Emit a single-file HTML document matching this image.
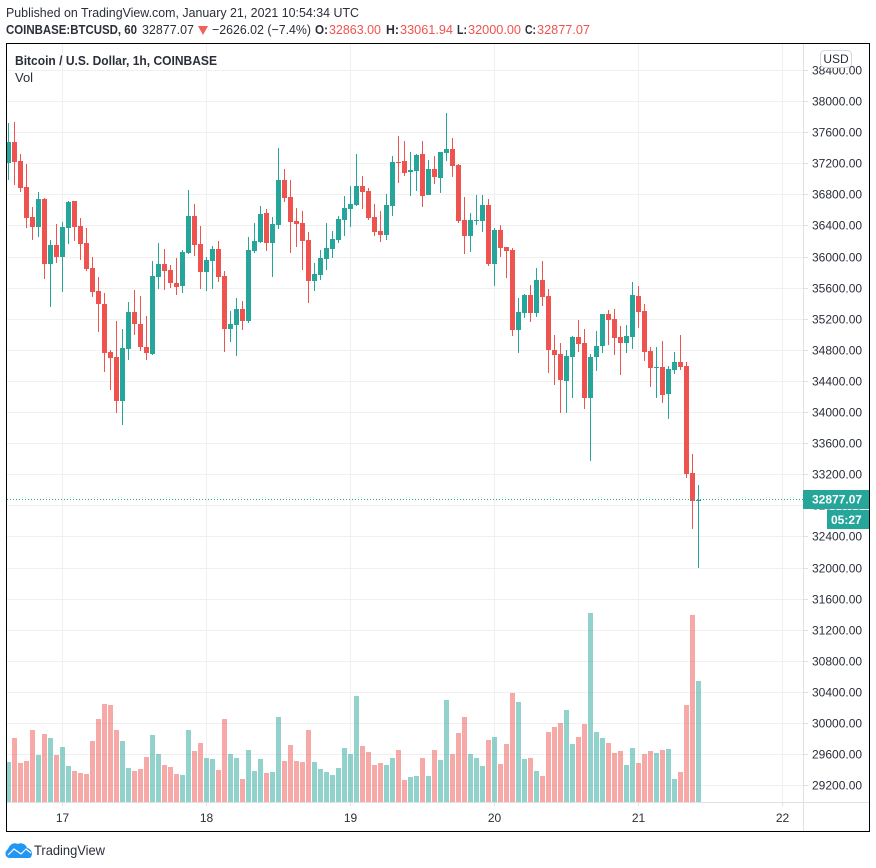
<!DOCTYPE html>
<html lang="en">
<head>
<meta charset="utf-8">
<title>Bitcoin / U.S. Dollar, 1h, COINBASE</title>
<style>
html,body{margin:0;padding:0;background:#fff;width:876px;height:868px;overflow:hidden}
svg{display:block;font-family:"Liberation Sans",Arial,sans-serif}
</style>
</head>
<body>
<svg id="chart" xmlns="http://www.w3.org/2000/svg" width="876" height="868" viewBox="0 0 876 868">
  <rect x="0" y="0" width="876" height="868" fill="#ffffff"/>
  <text x="6" y="17" font-size="13" fill="#2a2e39" textLength="353" lengthAdjust="spacingAndGlyphs">Published on TradingView.com, January 21, 2021 10:54:34 UTC</text>
  <g font-size="13">
    <text x="6" y="34" font-weight="bold" fill="#2a2e39" textLength="131" lengthAdjust="spacingAndGlyphs">COINBASE:BTCUSD, 60</text>
    <text x="142" y="34" fill="#2a2e39" textLength="52" lengthAdjust="spacingAndGlyphs">32877.07</text>
    <polygon points="198,26 208,26 203,35" fill="#f0605d"/>
    <text x="212" y="34" fill="#2a2e39" textLength="99" lengthAdjust="spacingAndGlyphs">−2626.02 (−7.4%)</text>
    <text x="315" y="34" font-weight="bold" fill="#2a2e39" textLength="13" lengthAdjust="spacingAndGlyphs">O:</text>
    <text x="329" y="34" fill="#ef5350" textLength="52" lengthAdjust="spacingAndGlyphs">32863.00</text>
    <text x="386" y="34" font-weight="bold" fill="#2a2e39" textLength="13" lengthAdjust="spacingAndGlyphs">H:</text>
    <text x="400" y="34" fill="#ef5350" textLength="53" lengthAdjust="spacingAndGlyphs">33061.94</text>
    <text x="457" y="34" font-weight="bold" fill="#2a2e39" textLength="10" lengthAdjust="spacingAndGlyphs">L:</text>
    <text x="468" y="34" fill="#ef5350" textLength="53" lengthAdjust="spacingAndGlyphs">32000.00</text>
    <text x="525" y="34" font-weight="bold" fill="#2a2e39" textLength="11" lengthAdjust="spacingAndGlyphs">C:</text>
    <text x="537" y="34" fill="#ef5350" textLength="53" lengthAdjust="spacingAndGlyphs">32877.07</text>
  </g>
  <g id="grid"></g>
  <g id="volumes"></g>
  <g id="candles"></g>
  <g id="axes"></g>
  <text x="15" y="65" font-size="13" font-weight="bold" fill="#2a2e39" textLength="202" lengthAdjust="spacingAndGlyphs">Bitcoin / U.S. Dollar, 1h, COINBASE</text>
  <text x="15" y="82" font-size="13" fill="#2a2e39">Vol</text>
  <g>
    <rect x="820.5" y="50.5" width="31" height="17" rx="4" fill="#ffffff" stroke="#d6d8e0"/>
    <text x="836" y="63" font-size="12" text-anchor="middle" fill="#2a2e39">USD</text>
  </g>
  <rect x="6.5" y="43.5" width="863" height="788" fill="none" stroke="#000000" stroke-width="1"/>
  <g>
    <path d="M10 858 C5 858 4 852 8 849 C10 844 14 842 18 844 C21 842 26 844 27 848 C32 849 33 854 31 857 C30.5 858 29 858 28 858 Z" fill="#2196f3"/>
    <polyline points="8,855 14,849 21,854 26,849 31,853" fill="none" stroke="#ffffff" stroke-width="1.2"/>
    <text x="34" y="855" font-size="14" fill="#2a2e39" textLength="71" lengthAdjust="spacingAndGlyphs">TradingView</text>
  </g>
</svg>
<script>
const opens = [37209,37479,37235,36900,36514,36386,36746,35910,36155,36000,36373,36720,36399,36180,35858,35563,35396,34778,34714,34148,34816,35292,35139,34842,34753,35743,35910,35833,35665,35627,36051,36527,36168,35807,35948,36103,35756,35074,35126,35331,35177,36077,36193,36566,36180,36412,36990,36772,36463,36437,36219,35691,35769,35974,36103,36219,36476,36617,36669,36913,36849,36514,36334,36283,36656,37222,37235,37093,37106,37325,36797,37132,37016,37337,37389,37184,36476,36270,36463,36463,36669,35910,36347,36129,36090,35061,35279,35511,35279,35704,35499,34804,34753,34405,34714,34971,34894,34186,34714,34855,35266,35203,34971,34894,34971,35499,35305,34791,34572,34585,34238,34547,34649,34598,33222,32863];
const highs = [37723,37736,37325,37196,36643,36836,36760,36219,36425,36450,36720,36725,36501,36373,36000,35743,35537,34804,35177,35074,35421,35576,35499,35241,35948,36180,36103,35897,35987,36090,36862,36682,36399,36000,36142,36206,35820,35305,35473,35434,36257,36437,36656,36617,36514,37402,37132,36990,36630,36592,36321,35922,36090,36437,36334,36527,36784,36913,37325,37042,36887,36682,36592,36810,37299,37556,37492,37350,37325,37492,37248,37299,37350,37852,37530,37190,36772,36566,36797,36797,36746,36373,36412,36135,36116,35473,35524,35640,35858,35948,35588,34997,34894,34804,34984,35190,35074,34753,35048,35266,35318,35331,35113,35126,35678,35627,35396,34842,34842,34919,34598,34778,34997,34649,33466,33062];
const lows = [36990,36926,36836,36373,36219,36257,35717,35357,35922,35550,36168,36206,35961,35820,35485,35035,34521,34289,33993,33839,34675,34997,34791,34675,34745,35588,35576,35601,35511,35537,36045,36013,35588,35563,35588,35678,34778,34906,34727,35061,35151,36051,36180,36077,35743,36360,36707,36051,36129,35833,35408,35563,35704,35833,35987,36180,36270,36386,36656,36617,36476,36270,36193,36219,36527,36952,37042,36784,36849,36643,36797,36939,36823,37235,37029,36437,36038,36064,36412,36321,35884,35627,36000,35730,34984,34765,35215,35164,35228,35370,34508,34354,33993,33993,34186,34778,34045,33377,34534,34765,34868,34739,34482,34765,34816,35087,34662,34328,34186,34122,33916,34495,34547,33157,32501,32000];
const closes = [37479,37222,36887,36501,36386,36746,35910,36155,36000,36386,36707,36386,36168,35845,35550,35396,34765,34701,34148,34829,35292,35139,34842,34765,35756,35910,35820,35665,35614,36064,36527,36155,35807,35961,36103,35743,35074,35139,35331,35177,36090,36206,36553,36180,36425,36990,36759,36450,36425,36206,35691,35781,35987,36116,36232,36488,36630,36682,36913,36836,36501,36321,36283,36669,37222,37209,37080,37119,37312,36784,37132,37029,37350,37389,37171,36463,36270,36476,36476,36669,35910,36347,36116,36077,35061,35292,35511,35279,35704,35486,34804,34739,34418,34727,34971,34881,34186,34714,34855,35266,35190,34958,34894,34984,35511,35292,34778,34572,34585,34225,34560,34649,34585,33209,32863,32877.07];
const volumes = [400,640,390,410,720,470,680,640,470,550,360,310,290,280,610,830,980,970,720,610,340,310,330,450,670,480,370,350,280,270,720,510,590,440,430,320,830,480,440,230,520,310,430,290,300,850,410,570,410,400,720,400,330,300,270,340,540,480,1060,560,500,370,390,370,440,520,220,250,260,440,260,520,420,1020,480,690,850,480,440,360,620,650,380,580,1090,1000,430,440,310,260,700,750,790,920,580,650,780,1890,700,640,590,490,510,370,540,390,480,510,490,520,530,230,300,970,1870,1210];
const priceTicks = [38400,38000,37600,37200,36800,36400,36000,35600,35200,34800,34400,34000,33600,33200,32800,32400,32000,31600,31200,30800,30400,30000,29600,29200];
const dayLabels = ['17','18','19','20','21','22'];
const dayBarIndex = [9,33,57,81,105,129];
const countdown = '05:27';

const NS = 'http://www.w3.org/2000/svg';
const UP = '#26a69a', DOWN = '#ef5350', GRID = '#f0f0f0', AXIS = '#e1e1e1', TEXT = '#2a2e39';

function priceY(p){ return 101.5 + (38000 - p) * 0.07775; }
function barX(i){ return 8.5 + 6 * i; }
function volumeHeight(v){ return v * 0.1; }
const VOL_BASE = 802;

function make(tag, parent, attrs){
  const el = document.createElementNS(NS, tag);
  for (const k in attrs) el.setAttribute(k, attrs[k]);
  parent.appendChild(el);
  return el;
}

const gridG = document.getElementById('grid');
const volG = document.getElementById('volumes');
const candleG = document.getElementById('candles');
const axesG = document.getElementById('axes');

priceTicks.forEach(function(t){
  const y = Math.floor(priceY(t));
  const line = make('rect', gridG, {x:7, y:y, width:796, height:1, fill:GRID});
  
  
});
dayBarIndex.forEach(function(ix){
  const x = Math.floor(barX(ix));
  const line = make('rect', gridG, {x:x, y:44, width:1, height:758, fill:GRID});
  
  
});

volumes.forEach(function(v, i){
  const h = Math.round(volumeHeight(v));
  const up = closes[i] >= opens[i];
  const bar = make('rect', volG, {x:barX(i)-2.5, y:VOL_BASE-h, width:5, height:h, fill:up?UP:DOWN, 'fill-opacity':0.5});
  
  
});

closes.forEach(function(c, i){
  const o = opens[i];
  const up = c >= o;
  const col = up ? UP : DOWN;
  const g = make('g', candleG, {});
  
  
  const yHigh = Math.round(priceY(highs[i]));
  const yLow = Math.round(priceY(lows[i]));
  const wick = make('rect', g, {x:barX(i)-0.5, y:yHigh, width:1, height:Math.max(1, yLow-yHigh), fill:col});
  
  
  const yTop = Math.round(priceY(Math.max(o, c)));
  const yBot = Math.round(priceY(Math.min(o, c)));
  const body = make('rect', g, {x:barX(i)-2.5, y:yTop, width:5, height:Math.max(1, yBot-yTop), fill:col});
  
  
});

const lastClose = closes[closes.length-1];
const lastY = Math.floor(priceY(lastClose)) + 0.5;
const dotted = make('line', axesG, {x1:7, x2:803, y1:lastY, y2:lastY, stroke:UP, 'stroke-width':1, 'stroke-dasharray':'1 2'});



const vAxis = make('rect', axesG, {x:803, y:44, width:1, height:787, fill:AXIS});


const hAxis = make('rect', axesG, {x:7, y:802, width:862, height:1, fill:AXIS});



priceTicks.forEach(function(t){
  const y = Math.floor(priceY(t));
  const tick = make('rect', axesG, {x:804, y:y, width:4, height:1, fill:AXIS});
  
  
  const label = make('text', axesG, {x:812, y:y+4.5, 'font-size':12, fill:TEXT});
  
  
  label.textContent = t.toFixed(2);
});
dayLabels.forEach(function(d, k){
  const x = Math.floor(barX(dayBarIndex[k]));
  const tick = make('rect', axesG, {x:x, y:803, width:1, height:3, fill:AXIS});
  
  
  const label = make('text', axesG, {x:x+0.5, y:822, 'font-size':12, 'text-anchor':'middle', fill:TEXT});
  
  
  label.textContent = d;
});

const priceBox = make('rect', axesG, {x:803, y:Math.floor(lastY)-9, width:66, height:19, fill:UP});


const priceText = make('text', axesG, {x:812, y:Math.floor(lastY)+4.5, 'font-size':12, 'font-weight':'bold', fill:'#ffffff'});


priceText.textContent = lastClose.toFixed(2);
const cdBox = make('rect', axesG, {x:827, y:Math.floor(lastY)+11, width:42, height:19, fill:UP});


const cdText = make('text', axesG, {x:831, y:Math.floor(lastY)+25, 'font-size':12, 'font-weight':'bold', fill:'#ffffff'});


cdText.textContent = countdown;
</script>
</body>
</html>
